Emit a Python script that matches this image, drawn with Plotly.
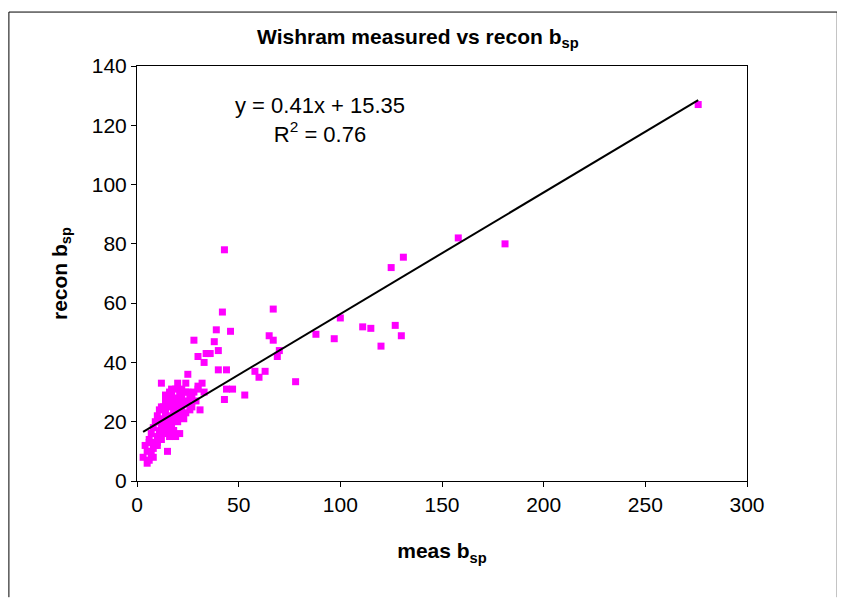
import plotly.graph_objects as go
import numpy as np

meas = [276,158,181,131,125,100,111,115,127,130,120,97,88,78,70,69,67,67,65,63,58,60,53,47,44,43,42,46,44,43,40,39,38,40,36,34,33,30,28,32,30,25,
        3,4,5,5,6,6,7,7,8,8,9,9,10,10,10,11,11,12,12,12,13,13,14,14,14,15,15,15,16,16,16,17,17,17,18,18,18,19,19,19,20,20,20,21,21,21,22,22,23,23,24,24,25,25,26,26,27,28,29,30,31,12,10,8,15,18,20,22,6,9,11,13,16,19,21,24,27,35,33,17,14]
recon = [127,82,80,75.5,72,55,52,51.5,52.5,49,45.5,48,49.5,33.5,44,42,58,47.5,49,37,37,35,29,31,31,78,57,50.5,37.5,27.5,37.5,51,47,44,43,43,40,42,47.5,33,31,36,
         8,12,6,10,7,14,9,16,11,18,13,20,15,22,12,17,24,14,19,25,16,21,18,23,27,20,17,25,22,28,15,19,26,30,21,24,17,28,23,31,20,26,33,22,29,16,25,31,27,21,23,33,26,30,24,28,25,30,27,32,24,33,13,8,10,17,22,28,13,12,20,25,30,15,24,30,28,43,30,31,29]
slope, intercept = 0.41, 15.35
xl = np.array([min(meas), max(meas)])

fig = go.Figure()
fig.add_trace(go.Scatter(x=meas, y=recon, mode="markers",
    marker=dict(symbol="square", size=7, color="#FF00FF"), showlegend=False))
fig.add_trace(go.Scatter(x=xl, y=slope*xl+intercept, mode="lines",
    line=dict(color="black", width=2), showlegend=False))

ax = dict(showgrid=False, zeroline=False, showline=True, mirror=True, linecolor="black",
          ticks="outside", tickcolor="black", ticklen=5, tickfont=dict(size=21, color="black"))
L, R, T, B = -0.21, 1.148, 1.13, -0.28
frame = dict(color="black", width=1)
fig.update_layout(
    width=845, height=599, paper_bgcolor="white", plot_bgcolor="white",
    font=dict(family="Liberation Sans, Arial", color="black"),
    margin=dict(l=129, r=106, t=58, b=126),
    title=dict(text="<b>Wishram measured vs recon b<sub>sp</sub></b>", x=0.485, xanchor="center", y=0.965, font=dict(size=21)),
    xaxis=dict(ax, range=[0, 300], dtick=50, title=dict(text="<b>meas b<sub>sp</sub></b>", font=dict(size=21), standoff=28)),
    yaxis=dict(ax, range=[0, 140], dtick=20, title=dict(text="<b>recon b<sub>sp</sub></b>", font=dict(size=21), standoff=18)),
    shapes=[dict(type="line", xref="paper", yref="paper", x0=L, x1=L, y0=B, y1=T, line=frame),
            dict(type="line", xref="paper", yref="paper", x0=R, x1=R, y0=B, y1=T, line=frame),
            dict(type="line", xref="paper", yref="paper", x0=L, x1=R, y0=T, y1=T, line=frame)],
    annotations=[dict(xref="paper", yref="paper", x=0.30, xanchor="center", y=0.94, showarrow=False, align="center",
                      text="y = 0.41x + 15.35<br>R<sup>2</sup> = 0.76", font=dict(size=22))]
)
fig.write_html("out.html")
